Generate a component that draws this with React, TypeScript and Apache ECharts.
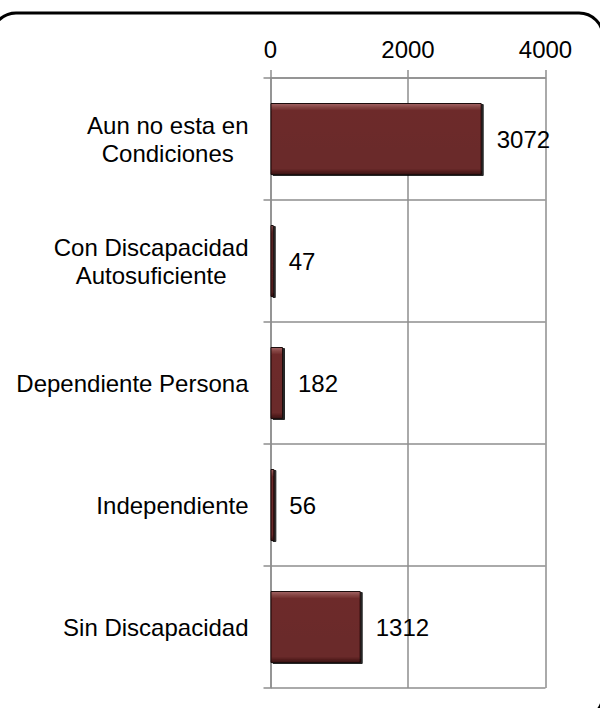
import React, { useEffect, useRef } from "react";
import * as echarts from "echarts";

const categories = [
  "Aun no esta en\nCondiciones",
  "Con Discapacidad\nAutosuficiente",
  "Dependiente Persona",
  "Independiente",
  "Sin Discapacidad",
];
const values = [3072, 47, 182, 56, 1312];
const axisMin = 0;
const axisMax = 4000;
const axisStep = 2000;

const FONT = "'Liberation Sans', Arial, sans-serif";
const GRID_COLOR = "#8e8e8e";

export default function App() {
  const ref = useRef<HTMLDivElement>(null);
  useEffect(() => {
    if (!ref.current) return;
    const chart = echarts.init(ref.current, null, { renderer: "svg" });
    chart.setOption({
      animation: false,
      backgroundColor: "#ffffff",
      textStyle: { fontFamily: FONT },
      graphic: [
        {
          type: "rect",
          shape: { x: -8, y: 13, width: 611, height: 706, r: 24 },
          style: { fill: "none", stroke: "#000", lineWidth: 3 },
          silent: true,
          z: 100,
        },
      ],
      grid: { left: 270.5, right: 54.5, top: 78, bottom: 20, containLabel: false },
      xAxis: {
        type: "value",
        position: "top",
        min: axisMin,
        max: axisMax,
        interval: axisStep,
        axisLine: { show: true, lineStyle: { color: GRID_COLOR, width: 1.5 } },
        axisTick: { show: true, length: 8, lineStyle: { color: GRID_COLOR, width: 1.5 } },
        axisLabel: {
          color: "#000",
          fontSize: 24,
          fontFamily: FONT,
          margin: 17,
          formatter: (v: number) => String(v),
        },
        splitLine: { show: true, lineStyle: { color: GRID_COLOR, width: 1.5 } },
      },
      yAxis: {
        type: "category",
        inverse: true,
        data: categories,
        axisLine: { show: true, lineStyle: { color: GRID_COLOR, width: 1.5 } },
        axisTick: { show: true, length: 7, lineStyle: { color: GRID_COLOR, width: 1.5 } },
        splitLine: { show: true, lineStyle: { color: GRID_COLOR, width: 1.5 } },
        axisLabel: {
          margin: 22,
          color: "#000",
          fontSize: 24,
          fontFamily: FONT,
          align: "right",
          formatter: (v: string) =>
            v
              .split("\n")
              .map((l) => "{c|" + l + "}")
              .join("\n"),
          rich: {
            c: { align: "center", fontSize: 24, lineHeight: 28, fontFamily: FONT, color: "#000" },
          },
        },
      },
      series: [
        {
          type: "bar",
          data: values,
          barWidth: 72,
          itemStyle: {
            color: new echarts.graphic.LinearGradient(0, 0, 0, 1, [
              { offset: 0, color: "#a46464" },
              { offset: 0.06, color: "#80403f" },
              { offset: 0.1, color: "#6d2b2b" },
              { offset: 0.92, color: "#6a2929" },
              { offset: 1, color: "#3a1212" },
            ]),
            borderColor: "#1a0808",
            borderWidth: 1,
            shadowColor: "rgba(0,0,0,0.85)",
            shadowOffsetX: 2,
            shadowOffsetY: 1,
            shadowBlur: 0,
          },
          label: {
            show: true,
            position: "right",
            distance: 15,
            color: "#000",
            fontSize: 24,
            fontFamily: FONT,
          },
        },
      ],
    });
    return () => chart.dispose();
  }, []);
  return (
    <div
      ref={ref}
      style={{ position: "absolute", left: 0, top: 0, width: 600, height: 708 }}
    />
  );
}
